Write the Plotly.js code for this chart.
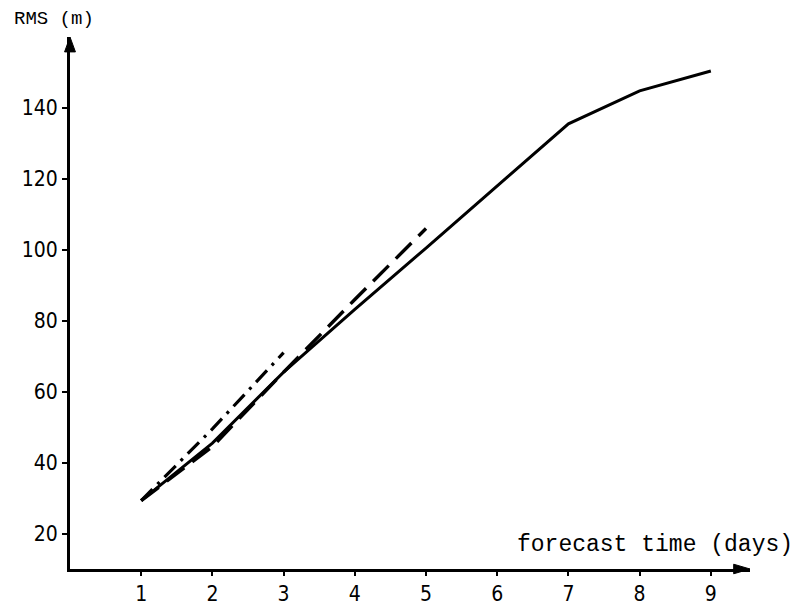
<!DOCTYPE html>
<html>
<head>
<meta charset="utf-8">
<script src="https://cdn.plot.ly/plotly-3.0.1.min.js"></script>
<style>html,body{margin:0;padding:0;background:#fff;}#chart{width:799px;height:610px;}</style>
</head>
<body>
<div id="chart"></div>
<script>
// Data
const solidDays = [1, 2, 3, 4, 5, 6, 7, 8, 9];
const solidRms = [29.3, 45.5, 65.5, 83.2, 100.5, 118, 135.5, 144.8, 150.4];
const dashedDays = [1, 2, 3, 4, 5];
const dashedRms = [29.3, 44.5, 65.5, 86, 106];
const dashDotDays = [1, 2, 3];
const dashDotRms = [29.3, 49.5, 71];
const xTickVals = [1, 2, 3, 4, 5, 6, 7, 8, 9];
const xTickText = ["1", "2", "3", "4", "5", "6", "7", "8", "9"];
const yTickVals = [20, 40, 60, 80, 100, 120, 140];
const yTickText = ["20", "40", "60", "80", "100", "120", "140"];

const tickFont = {family: "DejaVu Sans Condensed, Liberation Sans Narrow, sans-serif", size: 21, color: "#000"};
const monoFont = "Liberation Mono, Courier New, monospace";

const traces = [
  {x: dashDotDays, y: dashDotRms, mode: "lines", line: {color: "#000", width: 3.2, dash: "16px,7px,3px,7px"}, name: "dash-dot"},
  {x: dashedDays, y: dashedRms, mode: "lines", line: {color: "#000", width: 3.4, dash: "22px,10px"}, name: "dashed"},
  {x: solidDays, y: solidRms, mode: "lines", line: {color: "#000", width: 3}, name: "solid"}
];

const layout = {
  width: 799, height: 610,
  margin: {l: 70, r: 49, t: 37, b: 41},
  paper_bgcolor: "#fff", plot_bgcolor: "#fff",
  showlegend: false,
  xaxis: {
    range: [0, 9.55], showgrid: false, zeroline: false,
    showline: true, linecolor: "#000", linewidth: 3,
    ticks: "outside", ticklen: 4, tickwidth: 2, tickcolor: "#000",
    tickmode: "array", tickvals: xTickVals, ticktext: xTickText,
    tickfont: tickFont
  },
  yaxis: {
    range: [10, 160], showgrid: false, zeroline: false,
    showline: true, linecolor: "#000", linewidth: 3,
    ticks: "outside", ticklen: 5, tickwidth: 2, tickcolor: "#000",
    tickmode: "array", tickvals: yTickVals, ticktext: yTickText,
    tickfont: tickFont
  },
  shapes: [
    {type: "path", xref: "paper", yref: "paper", path: "M 0 1 L -0.008 0.972 L 0.008 0.972 Z", fillcolor: "#000", line: {color: "#000", width: 1}},
    {type: "path", xref: "paper", yref: "paper", path: "M 1 0 L 0.976 0.009 L 0.976 -0.009 Z", fillcolor: "#000", line: {color: "#000", width: 1}}
  ],
  annotations: [
    {text: "RMS (m)", xref: "paper", yref: "paper", x: -0.086, y: 1.034, xanchor: "left", yanchor: "middle", showarrow: false, font: {family: monoFont, size: 19, color: "#000"}},
    {text: "forecast time (days)", xref: "paper", yref: "paper", x: 1.066, y: 0.045, xanchor: "right", yanchor: "middle", showarrow: false, font: {family: monoFont, size: 23, color: "#000"}}
  ]
};

Plotly.newPlot("chart", traces, layout, {displayModeBar: false, staticPlot: true});
</script>
</body>
</html>
